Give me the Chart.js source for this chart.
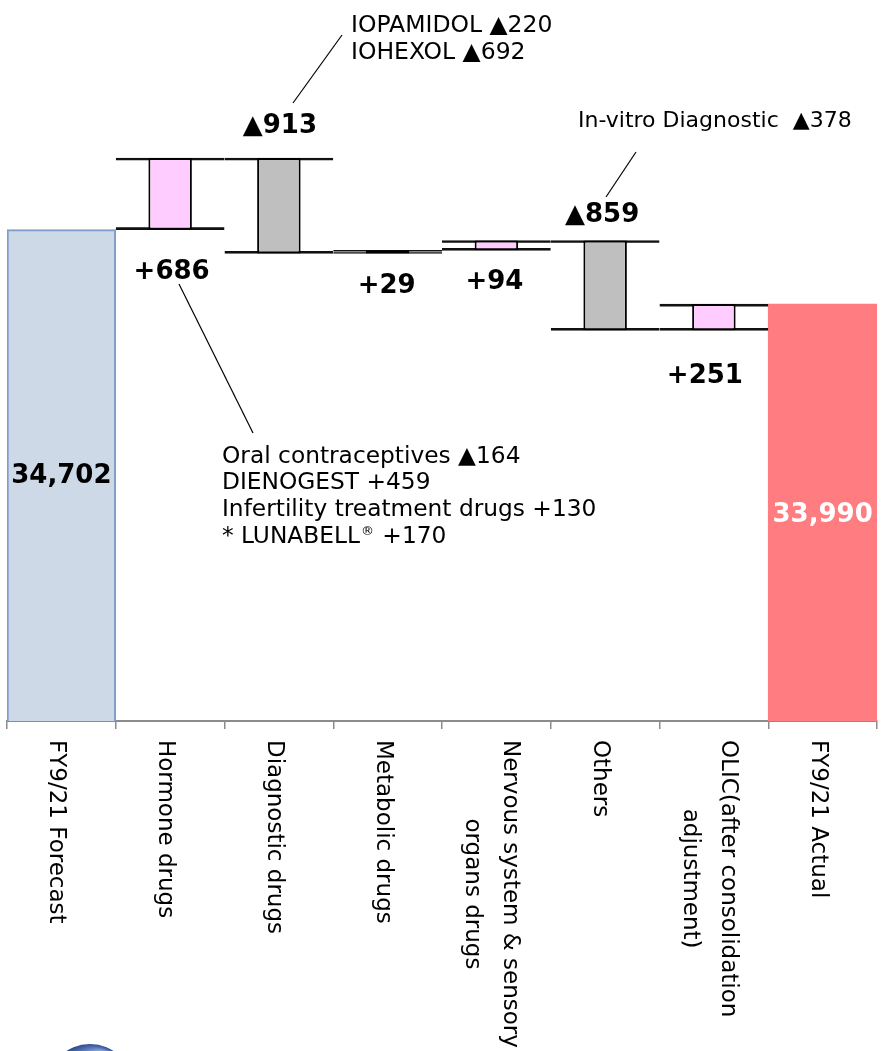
<!DOCTYPE html>
<html>
<head>
<meta charset="utf-8">
<title>Net sales variance FY9/21</title>
<script src="https://cdn.jsdelivr.net/npm/chart.js@4.4.1/dist/chart.umd.min.js"></script>
<style>
  html, body { margin: 0; padding: 0; background: #ffffff; }
  #wrap { width: 883px; height: 1051px; position: relative; }
</style>
</head>
<body>
<div id="wrap"><canvas id="c" width="883" height="1051"></canvas></div>
<script>
// Category labels (one entry per line of each label)
const categories = [
  ['FY9/21 Forecast'],
  ['Hormone drugs'],
  ['Diagnostic drugs'],
  ['Metabolic drugs'],
  ['Nervous system & sensory', 'organs drugs'],
  ['Others'],
  ['OLIC(after consolidation', 'adjustment)'],
  ['FY9/21 Actual']
];

// Start and end totals
const forecastValue = 34702;
const actualValue = 33990;

// Variance of each category between the two totals
const changeValues = [686, -913, 29, 94, -859, 251];

// Value axis range (axis itself is hidden)
const axisMin = 30000;
const axisMax = 36900;

// Breakdown notes attached to the bars
const diagnosticNotes = ['IOPAMIDOL ▲220', 'IOHEXOL ▲692'];
const ivdNotes = ['In-vitro Diagnostic  ▲378'];
const hormoneNotes = ['Oral contraceptives ▲164', 'DIENOGEST +459', 'Infertility treatment drugs +130', '* LUNABELL® +170'];

// ---- build the waterfall ranges ----
const n = categories.length;
const totalRanges = new Array(n).fill(null);
totalRanges[0] = [axisMin, forecastValue];
totalRanges[n - 1] = [axisMin, actualValue];

const stepRanges = new Array(n).fill(null);
let running = forecastValue;
changeValues.forEach((v, i) => {
  stepRanges[i + 1] = [running, running + v];
  running += v;
});

const stepColors = stepRanges.map((r, i) => {
  if (!r) return 'rgba(0,0,0,0)';
  return changeValues[i - 1] >= 0 ? '#ffccff' : '#bfbfbf';
});

const changeText = v => (v >= 0 ? '+' : '▲') + Math.abs(v);
const totalText = v => v.toLocaleString('en-US');

const FONT = '"DejaVu Sans", Verdana, sans-serif';

// Vertical category labels, rotated clockwise, centred on each category
const categoryLabels = {
  id: 'categoryLabels',
  afterDraw(chart, args, o) {
    const ctx = chart.ctx;
    const xs = chart.scales.x;
    ctx.save();
    ctx.font = o.font;
    ctx.fillStyle = o.color;
    ctx.textAlign = 'center';
    ctx.textBaseline = 'alphabetic';
    categories.forEach((lines, i) => {
      const cx = xs.getPixelForValue(i);
      const maxW = Math.max(...lines.map(l => ctx.measureText(l).width));
      const top = chart.chartArea.bottom + o.gap;
      ctx.save();
      ctx.translate(cx, top);
      ctx.rotate(Math.PI / 2);
      lines.forEach((line, k) => {
        const off = o.baselineShift + (k - (lines.length - 1) / 2) * o.lineHeight;
        ctx.fillText(line, maxW / 2, off);
      });
      ctx.restore();
    });
    ctx.restore();
  }
};

// Value labels on totals and variance bars
const valueLabels = {
  id: 'valueLabels',
  afterDatasetsDraw(chart, args, o) {
    const ctx = chart.ctx;
    const xs = chart.scales.x, ys = chart.scales.y;
    ctx.save();
    ctx.font = o.font;
    ctx.textAlign = 'center';
    ctx.textBaseline = 'middle';
    // totals, centred inside the bar
    [[0, forecastValue, o.totalColors[0]], [n - 1, actualValue, o.totalColors[1]]].forEach(([idx, v, col], j) => {
      const cx = xs.getPixelForValue(idx);
      const mid = (ys.getPixelForValue(axisMin) + ys.getPixelForValue(v)) / 2;
      ctx.fillStyle = col;
      ctx.fillText(totalText(v), cx + o.totalNudge[j][0], mid + o.totalNudge[j][1]);
    });
    // variances, placed beyond the starting edge of each step
    ctx.fillStyle = o.color;
    changeValues.forEach((v, i) => {
      const idx = i + 1;
      const start = stepRanges[idx][0];
      const cx = xs.getPixelForValue(idx);
      const y = ys.getPixelForValue(start);
      const [dx, dy] = o.changeNudge[i];
      ctx.fillText(changeText(v), cx + dx, y + dy);
    });
    ctx.restore();
  }
};

// Breakdown notes with leader lines
const notesPlugin = {
  id: 'notes',
  afterDraw(chart, args, o) {
    const ctx = chart.ctx;
    ctx.save();
    o.items.forEach(item => {
      ctx.strokeStyle = o.lineColor;
      ctx.lineWidth = 1.2;
      ctx.beginPath();
      ctx.moveTo(item.leader[0][0], item.leader[0][1]);
      ctx.lineTo(item.leader[1][0], item.leader[1][1]);
      ctx.stroke();
      ctx.fillStyle = o.color;
      ctx.textAlign = 'left';
      ctx.textBaseline = 'alphabetic';
      const font = item.size + 'px ' + FONT;
      item.lines.forEach((line, k) => {
        const y = item.y + k * item.lineHeight;
        let x = item.x;
        const parts = line.split('®');
        parts.forEach((part, p) => {
          ctx.font = font;
          ctx.fillText(part, x, y);
          x += ctx.measureText(part).width;
          if (p < parts.length - 1) {
            ctx.font = o.supFont;
            ctx.fillText('®', x + 1, y - 8);
            x += ctx.measureText('®').width + 2;
          }
        });
      });
    });
    ctx.restore();
  }
};

// Partial emblem at the lower left corner of the page
const emblem = {
  id: 'emblem',
  afterDraw(chart, args, o) {
    const ctx = chart.ctx;
    ctx.save();
    const g = ctx.createRadialGradient(o.x + 14, o.y - 30, 4, o.x, o.y, o.r);
    g.addColorStop(0, '#b9c8ea');
    g.addColorStop(0.55, '#5e7dbd');
    g.addColorStop(1, '#2c4a8e');
    ctx.fillStyle = g;
    ctx.beginPath();
    ctx.arc(o.x, o.y, o.r, 0, Math.PI * 2);
    ctx.fill();
    ctx.restore();
  }
};

new Chart(document.getElementById('c'), {
  type: 'bar',
  data: {
    labels: categories,
    datasets: [
      {
        label: 'Variance',
        data: stepRanges,
        backgroundColor: stepColors,
        borderColor: '#000000',
        borderWidth: 2,
        borderSkipped: false,
        barPercentage: 0.4,
        categoryPercentage: 1,
        grouped: false,
        order: 0
      },
      {
        label: 'Step lines',
        data: stepRanges,
        backgroundColor: 'rgba(0,0,0,0)',
        borderColor: '#111111',
        borderWidth: { top: 2, bottom: 2, left: 0, right: 0 },
        borderSkipped: false,
        barPercentage: 1,
        categoryPercentage: 1,
        grouped: false,
        order: 1
      },
      {
        label: 'Total',
        data: totalRanges,
        backgroundColor: ['#cdd9e7', null, null, null, null, null, null, '#ff7c80'],
        borderColor: ['#7f9dc9', null, null, null, null, null, null, 'rgba(0,0,0,0)'],
        borderWidth: [2, 0, 0, 0, 0, 0, 0, 0],
        borderSkipped: 'start',
        barPercentage: 1,
        categoryPercentage: 1,
        grouped: false,
        order: 2
      }
    ]
  },
  options: {
    responsive: false,
    animation: false,
    layout: { padding: { left: 7, right: 6, top: 0, bottom: 322 } },
    scales: {
      x: {
        offset: true,
        grid: { offset: true, drawOnChartArea: false, drawTicks: true, tickLength: 8, color: '#8c8c8c', lineWidth: 1.5 },
        border: { display: true, color: '#8c8c8c', width: 2 },
        ticks: { display: false }
      },
      y: { display: false, min: axisMin, max: axisMax }
    },
    plugins: {
      legend: { display: false },
      tooltip: { enabled: false },
      categoryLabels: { font: '23px ' + FONT, color: '#000000', gap: 19, lineHeight: 38, baselineShift: 11 },
      valueLabels: {
        font: 'bold 26px ' + FONT,
        color: '#000000',
        totalColors: ['#000000', '#ffffff'],
        totalNudge: [[0, 0.5], [0, 2.5]],
        changeNudge: [[1.5, 42.5], [1, -32], [-1, 33], [-2, 32], [-3, -25], [-9, 46]]
      },
      notes: {
        supFont: '13px ' + FONT,
        color: '#000000',
        lineColor: '#000000',
        items: [
          { lines: diagnosticNotes, size: 23.5, x: 351, y: 31.5, lineHeight: 27.5, leader: [[293, 103], [342, 35]] },
          { lines: ivdNotes, size: 22, x: 578, y: 126.5, lineHeight: 27, leader: [[606, 197], [636, 152]] },
          { lines: hormoneNotes, size: 23.3, x: 222, y: 462.5, lineHeight: 26.7, leader: [[179, 284], [253, 433]] }
        ]
      },
      emblem: { x: 90, y: 1087, r: 43 }
    }
  },
  plugins: [categoryLabels, valueLabels, notesPlugin, emblem]
});
</script>
</body>
</html>
